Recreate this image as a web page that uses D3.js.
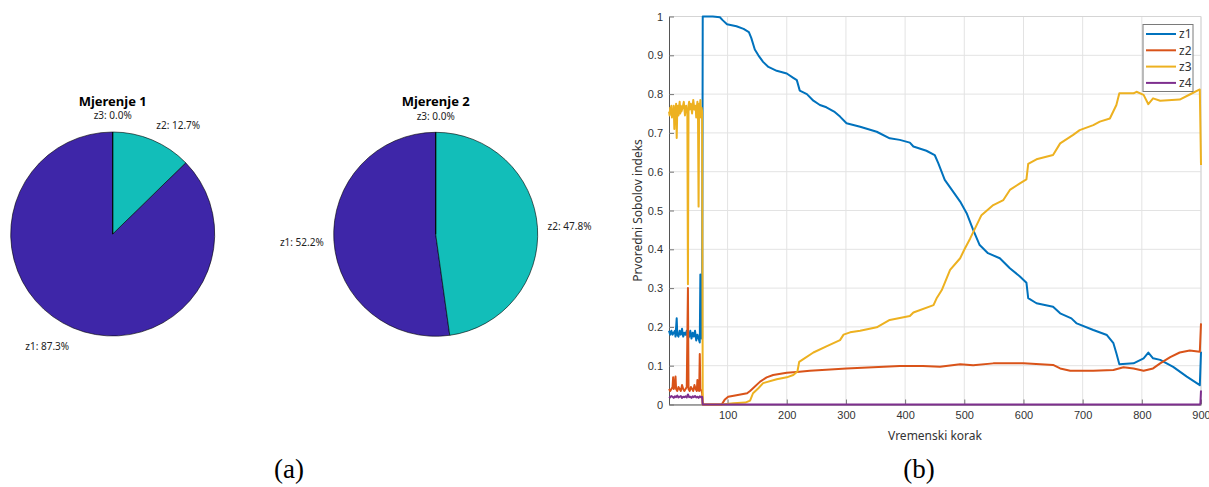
<!DOCTYPE html>
<html>
<head>
<meta charset="utf-8">
<script src="https://cdn.jsdelivr.net/npm/d3@7"></script>
<style>
  body { margin: 0; background: #fff; }
  svg { display: block; font-family: "Noto Sans", sans-serif; }
  .tick text { font-size: 11px; fill: #333; }
</style>
</head>
<body>
<svg id="fig" width="1209" height="487"></svg>
<script>
// Pie data.
const pieLabels = ["z1", "z2", "z3"];
const pieColors = ["#3e26a8", "#12beb9", "#f9fb0e"];
const pieTitles = ["Mjerenje 1", "Mjerenje 2"];
const pie1Values = [87.3, 12.7, 0.0];
const pie2Values = [52.2, 47.8, 0.0];

// Line data: [korak, indeks].
const seriesNames = ["z1", "z2", "z3", "z4"];
const seriesColors = ["#0072bd", "#d95319", "#edb120", "#7e2f8e"];
const xTicks = [100, 200, 300, 400, 500, 600, 700, 800, 900];
const yTicks = [0, 0.1, 0.2, 0.3, 0.4, 0.5, 0.6, 0.7, 0.8, 0.9, 1];

const z1 = [[1,0.19],[3,0.18],[5,0.19],[7,0.18],[9,0.185],[11,0.19],[12,0.175],[14,0.222],[15,0.18],[17,0.175],
  [19,0.19],[21,0.18],[23,0.195],[25,0.175],[27,0.185],[29,0.18],[31,0.19],[33,0.17],[35,0.175],[37,0.19],
  [39,0.17],[41,0.185],[43,0.175],[45,0.19],[47,0.165],[49,0.18],[51,0.17],[53,0.16],[54,0.335],[55,0.19],
  [56,0.17],[57,0.17],[58,1.0],[75,1.0],[87,0.998],[92,0.99],[99,0.98],[115,0.975],[127,0.968],[136,0.96],
  [140,0.945],[146,0.915],[152,0.9],[160,0.883],[169,0.87],[183,0.86],[200,0.853],[211,0.842],[217,0.836],
  [222,0.809],[234,0.8],[245,0.783],[256,0.772],[267,0.766],[280,0.755],[290,0.742],[301,0.725],[324,0.716],
  [352,0.703],[374,0.686],[391,0.682],[408,0.675],[414,0.665],[436,0.654],[450,0.643],[456,0.622],[467,0.579],
  [479,0.553],[493,0.523],[504,0.493],[515,0.45],[526,0.411],[540,0.39],[560,0.377],[577,0.351],[594,0.33],
  [605,0.314],[608,0.274],[622,0.261],[650,0.252],[662,0.235],[681,0.222],[690,0.209],[718,0.192],[741,0.179],
  [752,0.158],[757,0.132],[762,0.104],[786,0.106],[803,0.119],[811,0.134],[819,0.119],[831,0.115],[853,0.097],
  [876,0.072],[898,0.05],[900,0.136]];

const z2 = [[1,0.04],[3,0.035],[5,0.04],[7,0.045],[8,0.07],[9,0.04],[11,0.05],[12,0.072],[13,0.04],[15,0.035],
  [17,0.045],[19,0.04],[21,0.035],[23,0.05],[25,0.04],[27,0.035],[29,0.04],[31,0.045],[33,0.3],[34,0.04],
  [36,0.035],[38,0.045],[40,0.04],[42,0.035],[44,0.05],[46,0.04],[48,0.035],[49,0.063],[50,0.04],[52,0.035],
  [53,0.13],[54,0.04],[56,0.035],[57,0.03],[58,0],[90,0],[95,0.012],[101,0.02],[115,0.024],[133,0.029],
  [138,0.035],[143,0.042],[155,0.059],[166,0.07],[177,0.076],[200,0.082],[217,0.084],[239,0.087],[301,0.093],
  [391,0.099],[430,0.099],[459,0.097],[493,0.104],[515,0.101],[549,0.106],[600,0.106],[650,0.102],[662,0.093],
  [679,0.087],[718,0.087],[752,0.089],[769,0.096],[786,0.093],[803,0.087],[819,0.093],[831,0.106],[848,0.122],
  [864,0.134],[881,0.139],[898,0.136],[900,0.209]];

const z3 = [[1,0.755],[2,0.745],[3,0.765],[4,0.75],[5,0.77],[6,0.74],[7,0.76],[8,0.745],[9,0.77],[10,0.71],
  [11,0.765],[12,0.75],[13,0.775],[14,0.687],[15,0.76],[16,0.77],[17,0.745],[18,0.765],[19,0.78],[20,0.75],
  [21,0.77],[22,0.755],[24,0.765],[26,0.78],[28,0.745],[30,0.77],[31,0.76],[32,0.755],[33,0.31],[34,0.77],
  [35,0.78],[36,0.76],[38,0.775],[40,0.75],[42,0.785],[44,0.76],[46,0.77],[47,0.74],[48,0.765],[49,0.78],
  [50,0.745],[51,0.51],[52,0.775],[53,0.76],[54,0.785],[55,0.74],[56,0.765],[57,0.755],[58,0],[90,0],
  [110,0.003],[130,0.005],[138,0.01],[143,0.029],[152,0.042],[160,0.055],[183,0.065],[200,0.07],[211,0.076],
  [218,0.085],[221,0.11],[228,0.117],[245,0.134],[267,0.15],[290,0.166],[296,0.18],[307,0.186],[324,0.19],
  [352,0.199],[374,0.218],[408,0.228],[414,0.237],[448,0.256],[453,0.273],[462,0.295],[476,0.347],[493,0.377],
  [501,0.402],[510,0.428],[529,0.488],[549,0.514],[566,0.527],[577,0.553],[594,0.57],[605,0.58],[608,0.62],
  [622,0.632],[650,0.643],[662,0.673],[684,0.695],[695,0.707],[718,0.72],[729,0.729],[746,0.737],[757,0.772],
  [762,0.802],[786,0.802],[791,0.806],[803,0.798],[811,0.774],[819,0.789],[831,0.783],[864,0.786],[881,0.799],
  [898,0.812],[900,0.617]];

const z4 = [[1,0.02],[3,0.018],[5,0.022],[7,0.02],[9,0.017],[11,0.021],[13,0.019],[15,0.023],[17,0.018],
  [19,0.02],[21,0.022],[23,0.017],[25,0.02],[27,0.019],[29,0.021],[31,0.018],[33,0.026],[35,0.019],[37,0.02],
  [39,0.017],[41,0.021],[43,0.019],[45,0.022],[47,0.018],[49,0.02],[51,0.017],[53,0.021],[55,0.019],[57,0.02],
  [58,0],[898,0],[899,0.003],[900,0.036]];

const svg = d3.select("#fig");

// ---- (a) pies
const pieR = 102;
const pieCenters = [[112.7, 234], [435.7, 234.3]];
const pieGen = d3.pie().sort(null).startAngle(0).endAngle(-2 * Math.PI);
const arcGen = d3.arc().innerRadius(0).outerRadius(pieR);

[pie1Values, pie2Values].forEach((vals, i) => {
  const [cx, cy] = pieCenters[i];
  const g = svg.append("g").attr("transform", `translate(${cx},${cy})`);
  const arcs = pieGen(vals);

  g.selectAll("path")
    .data(arcs)
    .join("path")
    .attr("d", arcGen)
    .attr("fill", (d, j) => pieColors[j])
    .attr("stroke", "#000")
    .attr("stroke-width", 0.6);

  g.selectAll("text.lbl")
    .data(arcs)
    .join("text")
    .attr("class", "lbl")
    .each(function (d, j) {
      const a = (d.startAngle + d.endAngle) / 2;
      const s = Math.sin(a), c = Math.cos(a);
      const R = pieR * 1.1;
      const shift = c > 0 ? 6 : 10;
      d3.select(this)
        .attr("x", R * s)
        .attr("y", -R * c - c * shift)
        .attr("dy", "0.35em")
        .attr("text-anchor", s > 0.05 ? "start" : s < -0.05 ? "end" : "middle")
        .text(`${pieLabels[j]}: ${d.data.toFixed(1)}%`);
    })
    .attr("font-size", 10)
    .attr("fill", "#222");

  g.append("text")
    .attr("x", 0)
    .attr("y", -132.5)
    .attr("dy", "0.35em")
    .attr("text-anchor", "middle")
    .attr("font-size", 13)
    .attr("font-weight", "bold")
    .text(pieTitles[i]);
});

// ---- (b) line chart
const plotL = 669, plotR = 1201, plotT = 16.5, plotB = 404.5;
const x = d3.scaleLinear().domain([1, 900]).range([plotL, plotR]);
const y = d3.scaleLinear().domain([0, 1]).range([plotB, plotT]);

const grid = svg.append("g").attr("stroke", "#e3e3e3").attr("stroke-width", 1);
grid.selectAll("line.v").data(xTicks).join("line").attr("class", "v")
  .attr("x1", d => x(d)).attr("x2", d => x(d)).attr("y1", plotT).attr("y2", plotB);
grid.selectAll("line.h").data(yTicks).join("line").attr("class", "h")
  .attr("x1", plotL).attr("x2", plotR).attr("y1", d => y(d)).attr("y2", d => y(d));

// box top/right
svg.append("path")
  .attr("d", `M${plotL},${plotT}H${plotR}V${plotB}`)
  .attr("fill", "none")
  .attr("stroke", "#d5d5d5");

const xAxis = d3.axisBottom(x).tickValues(xTicks).tickSizeInner(-5).tickSizeOuter(0).tickPadding(7);
const yAxis = d3.axisLeft(y).tickValues(yTicks).tickFormat(d3.format("")).tickSizeInner(-5).tickSizeOuter(0).tickPadding(6);

const gx = svg.append("g").attr("transform", `translate(0,${plotB})`).call(xAxis);
const gy = svg.append("g").attr("transform", `translate(${plotL},0)`).call(yAxis);
[gx, gy].forEach(g => {
  g.select(".domain").attr("stroke", "#555");
  g.selectAll(".tick line").attr("stroke", "#777");
});

const lineGen = d3.line().x(d => x(d[0])).y(d => y(d[1]));
[z1, z2, z3, z4].forEach((pts, i) => {
  svg.append("path")
    .datum(pts)
    .attr("d", lineGen)
    .attr("fill", "none")
    .attr("stroke", seriesColors[i])
    .attr("stroke-width", 2)
    .attr("stroke-linejoin", "round");
});

svg.append("text")
  .attr("x", (plotL + plotR) / 2)
  .attr("y", 436)
  .attr("dy", "0.35em")
  .attr("text-anchor", "middle")
  .attr("font-size", 12)
  .attr("fill", "#333")
  .text("Vremenski korak");

svg.append("text")
  .attr("transform", `translate(638,${(plotT + plotB) / 2}) rotate(-90)`)
  .attr("dy", "0.35em")
  .attr("text-anchor", "middle")
  .attr("font-size", 12)
  .attr("fill", "#333")
  .text("Prvoredni Sobolov indeks");

// legend
const leg = svg.append("g");
leg.append("rect")
  .attr("x", 1143).attr("y", 24.5).attr("width", 50).attr("height", 67)
  .attr("fill", "#fff").attr("stroke", "#7a7a7a");
seriesNames.forEach((name, i) => {
  const ly = 34 + i * 16.3;
  leg.append("line")
    .attr("x1", 1146).attr("x2", 1176).attr("y1", ly).attr("y2", ly)
    .attr("stroke", seriesColors[i]).attr("stroke-width", 2);
  leg.append("text")
    .attr("x", 1179).attr("y", ly).attr("dy", "0.35em")
    .attr("font-size", 12).attr("fill", "#333")
    .text(name);
});

// captions
[["(a)", 289], ["(b)", 919]].forEach(([t, cx]) => {
  svg.append("text")
    .attr("x", cx).attr("y", 469).attr("dy", "0.35em")
    .attr("text-anchor", "middle")
    .attr("font-family", "'Liberation Serif', serif")
    .attr("font-size", 27)
    .text(t);
});
</script>
</body>
</html>
